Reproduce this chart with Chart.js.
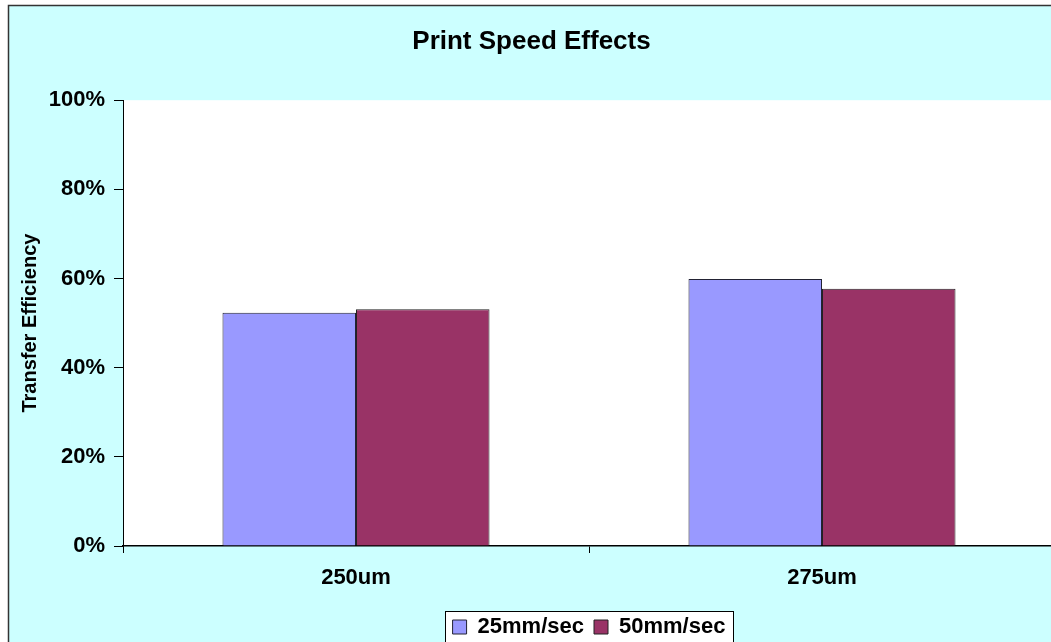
<!DOCTYPE html>
<html>
<head>
<meta charset="utf-8">
<script src="https://cdn.jsdelivr.net/npm/chart.js@4/dist/chart.umd.min.js"></script>
<style>
  html, body { margin: 0; padding: 0; overflow: hidden; background: #fff; }
  canvas { display: block; }
</style>
</head>
<body>
<canvas id="myChart" width="1060" height="648"></canvas>
<script>
// categories (pattern sizes) and series values in %
const categories = ['250um', '275um'];
const speed25 = [52.3, 59.9];
const speed50 = [53.1, 57.7];
const seriesNames = ['25mm/sec', '50mm/sec'];
const yTicks = [0, 20, 40, 60, 80, 100];

const font = 'Liberation Sans, Arial, sans-serif';

// paints the cyan frame, the white plot area and the white legend box
const backdrop = {
  id: 'backdrop',
  beforeDraw(chart) {
    const ctx = chart.ctx;
    const area = chart.chartArea;
    ctx.save();
    ctx.fillStyle = '#ffffff';
    ctx.fillRect(0, 0, chart.width, chart.height);
    ctx.fillStyle = '#CCFFFF';
    ctx.fillRect(8.5, 5.5, chart.width, chart.height);
    ctx.strokeStyle = '#333333';
    ctx.lineWidth = 1.5;
    ctx.strokeRect(8.5, 5.5, chart.width + 10, chart.height + 10);
    ctx.fillStyle = '#ffffff';
    ctx.fillRect(area.left, area.top, area.right - area.left, area.bottom - area.top);

    const boxes = chart.legend.legendHitBoxes;
    if (boxes && boxes.length) {
      let l = Infinity, r = -Infinity, t = Infinity, b = -Infinity;
      boxes.forEach(h => {
        l = Math.min(l, h.left); r = Math.max(r, h.left + h.width);
        t = Math.min(t, h.top); b = Math.max(b, h.top + h.height);
      });
      const x = Math.round(l - 8) + 0.5, y = Math.round(t - 5) + 0.5;
      const w = Math.round(r - l + 15), hgt = Math.round(b - t + 10);
      ctx.fillStyle = '#ffffff';
      ctx.fillRect(x, y, w, hgt);
      ctx.strokeStyle = '#000000';
      ctx.lineWidth = 1;
      ctx.strokeRect(x, y, w, hgt);
    }
    ctx.restore();
  }
};

const ctx = document.getElementById('myChart').getContext('2d');
const myChart = new Chart(ctx, {
  type: 'bar',
  data: {
    labels: categories,
    datasets: [{
      label: seriesNames[0],
      data: speed25,
      backgroundColor: '#9999FF',
      borderColor: '#222233',
      borderWidth: 1
    }, {
      label: seriesNames[1],
      data: speed50,
      backgroundColor: '#993366',
      borderColor: '#222222',
      borderWidth: 1
    }]
  },
  plugins: [backdrop],
  options: {
    responsive: false,
    animation: false,
    layout: { padding: { left: 8, top: 5, right: 5, bottom: 0 } },
    datasets: {
      bar: { categoryPercentage: 0.573, barPercentage: 1 }
    },
    plugins: {
      title: {
        display: true,
        text: 'Print Speed Effects',
        color: '#000',
        font: { family: font, size: 26, weight: 'bold' },
        padding: { top: 21, bottom: 43 }
      },
      legend: {
        position: 'bottom',
        fullSize: false,
        labels: {
          color: '#000',
          font: { family: font, size: 22, weight: 'bold' },
          boxWidth: 14,
          boxHeight: 14,
          padding: 10
        }
      },
      tooltip: { enabled: false }
    },
    scales: {
      x: {
        afterFit(scale) { scale.height = 60; },
        grid: {
          display: true,
          drawOnChartArea: false,
          tickLength: 7,
          color: '#000',
          offset: true
        },
        border: { color: '#000', width: 1.5 },
        ticks: {
          color: '#000',
          padding: 12,
          font: { family: font, size: 22, weight: 'bold' }
        }
      },
      y: {
        min: 0,
        max: 100,
        afterFit(scale) { scale.width = 115; },
        afterBuildTicks(scale) { scale.ticks = yTicks.map(v => ({ value: v })); },
        grid: {
          drawOnChartArea: false,
          tickLength: 9,
          color: '#000'
        },
        border: { color: '#000', width: 1 },
        ticks: {
          color: '#000',
          padding: 9,
          font: { family: font, size: 22, weight: 'bold' },
          callback: v => v + '%'
        },
        title: {
          display: true,
          text: 'Transfer Efficiency',
          color: '#000',
          font: { family: font, size: 20, weight: 'bold' },
          padding: { top: 10, bottom: 0 }
        }
      }
    }
  }
});
</script>
</body>
</html>
